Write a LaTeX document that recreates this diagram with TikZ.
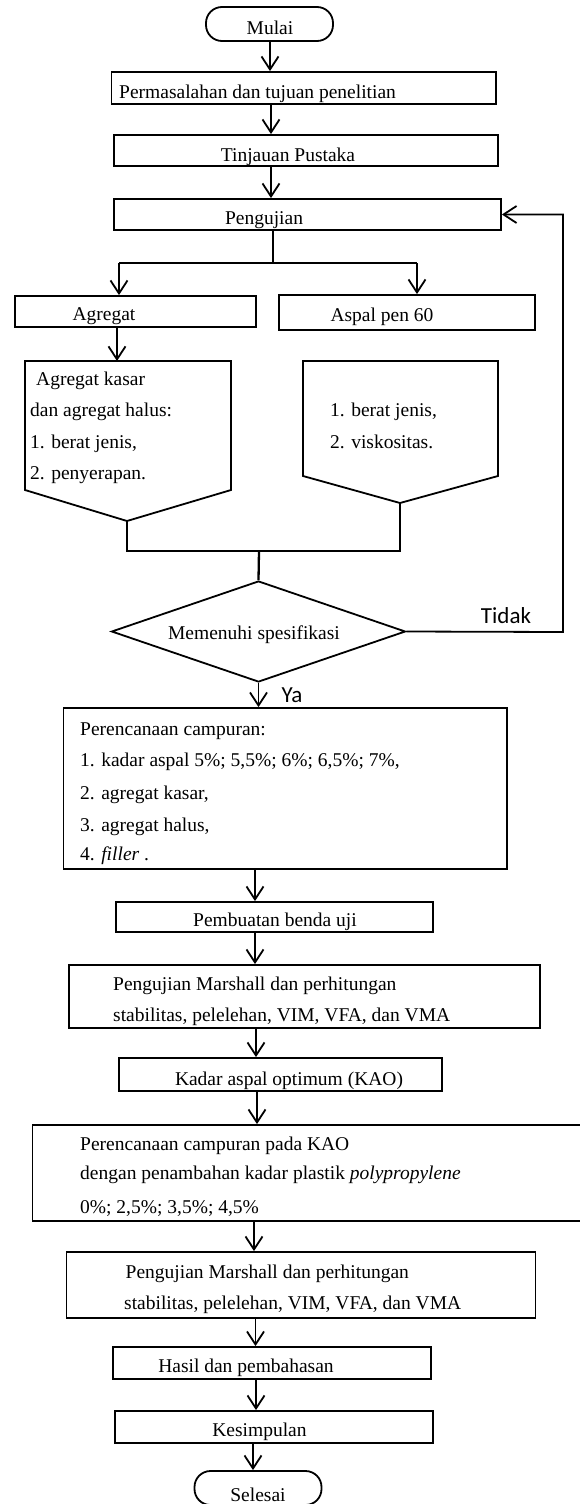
\documentclass[tikz,border=0pt]{standalone}
\usepackage{fontspec}
\setmainfont{Liberation Serif}
\newfontfamily\sansf{Carlito}
\usetikzlibrary{arrows.meta,shapes.geometric}
\begin{document}
\begin{tikzpicture}[x=1pt,y=-1pt,
  box/.style={draw, rectangle, line width=1.8pt, inner sep=0pt},
  term/.style={draw, rectangle, rounded corners=16pt, line width=1.8pt, inner sep=0pt},
  ln/.style={line width=1.8pt},
  thk/.style={line width=2.3pt},
  arr/.style={line width=1.8pt, -{Straight Barb[length=13pt,width=17pt]}},
  txt/.style={font=\fontsize{19.5}{23}\selectfont, inner sep=0pt, anchor=base},
  ltxt/.style={font=\fontsize{19.5}{23}\selectfont, inner sep=0pt, anchor=base west},
  stxt/.style={font=\sansf\fontsize{23}{27}\selectfont, inner sep=0pt, anchor=base}
]
\useasboundingbox (0,0) rectangle (579,1504);

% terminals and boxes
\node[term, minimum width=127pt, minimum height=34pt] (m) at (269.5,24) {};
\node[txt] (tm) at (270,35) {Mulai};

\node[box, minimum width=384.5pt, minimum height=32pt] (b1) at (303.75,88) {};
\node[ltxt] (t1) at (119,98) {Permasalahan dan tujuan penelitian};

\node[box, minimum width=384pt, minimum height=31pt] (b2) at (306,150.5) {};
\node[txt] (t2) at (288,161) {Tinjauan Pustaka};

\node[box, minimum width=387pt, minimum height=31pt] (b3) at (307.5,214.5) {};
\node[txt] (t3) at (264,224) {Pengujian};

\node[box, minimum width=241pt, minimum height=31pt] (b4) at (135.5,311.5) {};
\node[txt] (t4) at (104,320.5) {Agregat};

\node[box, minimum width=256pt, minimum height=35pt] (b5) at (407,312.5) {};
\node[txt] (t5) at (382,321) {Aspal pen 60};

% pentagons
\coordinate (p1tip) at (127,521);
\draw[ln] (25,361) -- (231,361) -- (231,490) -- (p1tip) -- (25,490) -- cycle;
\coordinate (p1top) at (117,361);
\node[ltxt] (t6a) at (36,385) {Agregat kasar};
\node[ltxt] (t6b) at (30,416.5) {dan agregat halus:};
\node[ltxt] (t6c) at (30,448) {1. berat jenis,};
\node[ltxt] (t6d) at (30,479.5) {2. penyerapan.};

\coordinate (p2tip) at (400,503);
\draw[ln] (303,361) -- (498,361) -- (498,476) -- (p2tip) -- (303,476) -- cycle;
\node[ltxt] (t7a) at (330,416.5) {1. berat jenis,};
\node[ltxt] (t7b) at (330,448) {2. viskositas.};

% decision
\node[draw, diamond, line width=1.8pt, inner sep=0pt, minimum width=294pt, minimum height=101pt] (d) at (258.5,631.5) {};
\node[txt] (td) at (254,639) {Memenuhi spesifikasi};
\node[stxt] (tidak) at (506,623) {Tidak};
\node[stxt] (ya) at (292,702) {Ya};

\node[box, minimum width=443.5pt, minimum height=161pt] (b6) at (285.25,788.5) {};
\node[ltxt] (t8a) at (80,735) {Perencanaan campuran:};
\node[ltxt] (t8b) at (80,766.5) {1. kadar aspal 5\%; 5,5\%; 6\%; 6,5\%; 7\%,};
\node[ltxt] (t8c) at (80,799) {2. agregat kasar,};
\node[ltxt] (t8d) at (80,831) {3. agregat halus,};
\node[ltxt] (t8e) at (80,860.5) {4. \textit{filler} .};

\node[box, minimum width=317pt, minimum height=30pt] (b7) at (274.5,917) {};
\node[txt] (t9) at (275,926.5) {Pembuatan benda uji};

\node[box, minimum width=471pt, minimum height=63pt] (b8) at (304.5,996.5) {};
\node[ltxt] (t10a) at (113,990) {Pengujian Marshall dan perhitungan};
\node[ltxt] (t10b) at (113,1021.5) {stabilitas, pelelehan, VIM, VFA, dan VMA};

\node[box, minimum width=323pt, minimum height=33pt] (b9) at (280.5,1074.5) {};
\node[txt] (t11) at (289,1085) {Kadar aspal optimum (KAO)};

\node[box, minimum width=557.5pt, minimum height=96pt] (b10) at (311.25,1173) {};
\node[ltxt] (t12a) at (80,1150) {Perencanaan campuran pada KAO};
\node[ltxt] (t12b) at (80,1179) {dengan penambahan kadar plastik \textit{polypropylene}};
\node[ltxt] (t12c) at (80,1213) {0\%; 2,5\%; 3,5\%; 4,5\%};

\node[box, minimum width=469pt, minimum height=66pt] (b11) at (301,1285) {};
\node[ltxt] (t13a) at (125.5,1278) {Pengujian Marshall dan perhitungan};
\node[ltxt] (t13b) at (124,1309) {stabilitas, pelelehan, VIM, VFA, dan VMA};

\node[box, minimum width=318.4pt, minimum height=32pt] (b12) at (271.8,1363) {};
\node[txt] (t14) at (246,1372.5) {Hasil dan pembahasan};

\node[box, minimum width=318pt, minimum height=32pt] (b13) at (274,1427) {};
\node[txt] (t15) at (259.5,1436.5) {Kesimpulan};

\node[term, minimum width=127pt, minimum height=34pt] (s) at (258,1488) {};
\node[txt] (ts) at (258,1501) {Selesai};

% helper x coordinates for connectors
\coordinate (x1) at (271,0);
\coordinate (x2) at (271,0);
\coordinate (sp) at (273,263);
\coordinate (spl) at (119,263);
\coordinate (spr) at (417,263);
\coordinate (mgl) at (127,551);
\coordinate (mgr) at (400,551);
\coordinate (mgc) at (259,551);
\coordinate (lp) at (563,632);
\coordinate (x6) at (255,0);
\coordinate (x7) at (255,0);
\coordinate (x8) at (256,0);
\coordinate (x9) at (257,0);
\coordinate (x10) at (254,0);
\coordinate (x11) at (255.5,0);
\coordinate (x12) at (256,0);
\coordinate (x13) at (253,0);

% connectors
\draw[arr] (m.south -| tm) -- (b1.north -| tm);
\draw[arr] (b1.south -| x1) -- (b2.north -| x1);
\draw[arr] (b2.south -| x2) -- (b3.north -| x2);
\draw[thk] (b3.south -| sp) -- (sp);
\draw[ln] (spl) -- (spr);
\draw[arr] (spl) -- (spl |- b4.north);
\draw[arr] (spr) -- (spr |- b5.north);
\draw[arr] (b4.south -| p1top) -- (p1top);
\draw[thk] (p1tip) -- (mgl) -- (mgr) -- (p2tip);
\draw[thk] (mgc) -- (d.north);
\draw[arr] (d.east) -- (lp) -- (lp |- b3.east) -- (b3.east);
\draw[arr] (d.south) -- (d.south |- b6.north);
\draw[arr] (b6.south -| x6) -- (b7.north -| x6);
\draw[arr] (b7.south -| x7) -- (b8.north -| x7);
\draw[arr] (b8.south -| x8) -- (b9.north -| x8);
\draw[arr] (b9.south -| x9) -- (b10.north -| x9);
\draw[arr] (b10.south -| x10) -- (b11.north -| x10);
\draw[arr] (b11.south -| x11) -- (b12.north -| x11);
\draw[arr] (b12.south -| x12) -- (b13.north -| x12);
\draw[arr] (b13.south -| x13) -- (s.north -| x13);
\end{tikzpicture}
\end{document}
